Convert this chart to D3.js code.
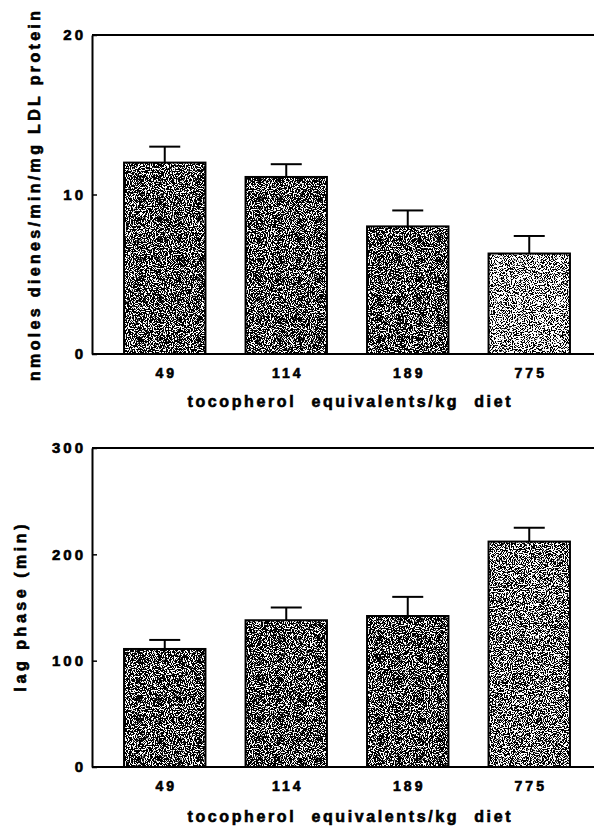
<!DOCTYPE html>
<html>
<head>
<meta charset="utf-8">
<script src="https://cdn.jsdelivr.net/npm/d3@7"></script>
<style>
  html, body { margin: 0; padding: 0; background: #fff; }
  svg { display: block; }
  text { font-family: "Liberation Sans", Arial, Helvetica, sans-serif; font-weight: bold; fill: #000;
         stroke: #000; stroke-width: 0.6px; }
</style>
</head>
<body>
<script>
// Diet groups: tocopherol equivalents per kg diet
const categories = ["49", "114", "189", "775"];

// Upper panel: rate of conjugated diene formation (nmoles/min/mg LDL protein), mean and SEM
const dieneRate = [12.0, 11.1, 8.0, 6.3];
const dieneSem = [1.0, 0.8, 1.0, 1.1];
const dieneTicks = [0, 10, 20];

// Lower panel: lag phase before oxidation (min), mean and SEM
const lagPhase = [111, 138, 142, 212];
const lagSem = [8.5, 12, 18, 13];
const lagTicks = [0, 100, 200, 300];

const xTitle = "tocopherol equivalents/kg diet";

const W = 594, H = 827;
const svg = d3.select("body").append("svg").attr("width", W).attr("height", H);
svg.append("rect").attr("width", W).attr("height", H).attr("fill", "#fff");

// Stippled fills: thresholded noise gives the grainy half-tone look of the bars
const defs = svg.append("defs");
function grain(id, offset, seed) {
  const f = defs.append("filter").attr("id", id)
    .attr("x", 0).attr("y", 0).attr("width", 1).attr("height", 1)
    .attr("filterUnits", "objectBoundingBox")
    .attr("color-interpolation-filters", "sRGB");
  f.append("feTurbulence").attr("type", "fractalNoise").attr("baseFrequency", 0.95)
    .attr("numOctaves", 2).attr("seed", seed).attr("result", "noise");
  f.append("feColorMatrix").attr("in", "noise").attr("type", "matrix")
    .attr("values", `0 0 0 0 0  0 0 0 0 0  0 0 0 0 0  -22 0 0 0 ${offset}`)
    .attr("result", "dots");
  f.append("feFlood").attr("flood-color", "#fff").attr("result", "paper");
  const m = f.append("feMerge");
  m.append("feMergeNode").attr("in", "paper");
  m.append("feMergeNode").attr("in", "dots");
}
grain("grain-dark", 12.4, 3);
grain("grain-mid", 11.7, 5);
grain("grain-light", 10.9, 9);

const x = d3.scaleBand().domain(categories).range([104, 590])
  .paddingInner(0.33).paddingOuter(0.165);

const xAxisLeft = 92;

function panel(cfg) {
  const y = d3.scaleLinear().domain([0, cfg.max]).range([cfg.bottom, cfg.top]);
  const g = svg.append("g");

  // bars: grain fill plus black outline
  const bars = g.selectAll("g.bar").data(categories).join("g").attr("class", "bar");
  bars.append("rect")
    .attr("x", d => x(d))
    .attr("y", (d, i) => y(cfg.values[i]))
    .attr("width", x.bandwidth())
    .attr("height", (d, i) => y(0) - y(cfg.values[i]))
    .attr("fill", "#888")
    .attr("filter", (d, i) => `url(#${cfg.fills[i]})`);
  bars.append("rect")
    .attr("x", d => x(d))
    .attr("y", (d, i) => y(cfg.values[i]))
    .attr("width", x.bandwidth())
    .attr("height", (d, i) => y(0) - y(cfg.values[i]))
    .attr("fill", "none").attr("stroke", "#000").attr("stroke-width", 2);

  // upward error bars
  const capHalf = 15.5;
  bars.append("line")
    .attr("x1", d => x(d) + x.bandwidth() / 2).attr("x2", d => x(d) + x.bandwidth() / 2)
    .attr("y1", (d, i) => y(cfg.values[i]))
    .attr("y2", (d, i) => y(cfg.values[i] + cfg.errors[i]))
    .attr("stroke", "#000").attr("stroke-width", 2);
  bars.append("line")
    .attr("x1", d => x(d) + x.bandwidth() / 2 - capHalf)
    .attr("x2", d => x(d) + x.bandwidth() / 2 + capHalf)
    .attr("y1", (d, i) => y(cfg.values[i] + cfg.errors[i]))
    .attr("y2", (d, i) => y(cfg.values[i] + cfg.errors[i]))
    .attr("stroke", "#000").attr("stroke-width", 2);

  // frame: top rule and baseline run to the right edge
  g.append("line").attr("x1", xAxisLeft).attr("x2", W)
    .attr("y1", y(cfg.max)).attr("y2", y(cfg.max))
    .attr("stroke", "#000").attr("stroke-width", 2);
  g.append("line").attr("x1", xAxisLeft).attr("x2", W)
    .attr("y1", y(0)).attr("y2", y(0))
    .attr("stroke", "#000").attr("stroke-width", 2);

  // left axis with inward ticks
  const ya = g.append("g").attr("transform", `translate(${xAxisLeft},0)`)
    .call(d3.axisLeft(y).tickValues(cfg.ticks).tickSizeInner(-5).tickSizeOuter(0).tickPadding(6));
  ya.select(".domain").attr("stroke", "#000").attr("stroke-width", 2);
  ya.selectAll(".tick line").attr("stroke", "#000").attr("stroke-width", 1.5);
  ya.selectAll(".tick text").attr("font-size", 15).attr("letter-spacing", "3px")
    .attr("font-family", null).attr("fill", "#000");

  // category labels
  const xa = g.append("g").attr("transform", `translate(0,${y(0)})`)
    .call(d3.axisBottom(x).tickSize(0).tickPadding(14));
  xa.select(".domain").remove();
  xa.selectAll(".tick text").attr("font-size", 14).attr("letter-spacing", "3px")
    .attr("dx", "1.5px").attr("font-family", null).attr("fill", "#000");

  // axis titles
  g.append("text").attr("x", 349).attr("y", y(0) + cfg.xTitleOffset)
    .attr("text-anchor", "middle").attr("font-size", 16)
    .attr("textLength", 323).attr("lengthAdjust", "spacing")
    .attr("word-spacing", "8px")
    .text(xTitle);
  g.append("text")
    .attr("transform", `translate(${cfg.yTitleX},${cfg.yTitleMid}) rotate(-90)`)
    .attr("text-anchor", "middle").attr("font-size", 16)
    .attr("textLength", cfg.yTitleLen).attr("lengthAdjust", "spacing")
    .text(cfg.yTitle);
}

panel({
  values: dieneRate, errors: dieneSem, ticks: dieneTicks, max: 20,
  top: 35, bottom: 354,
  fills: ["grain-dark", "grain-dark", "grain-dark", "grain-light"],
  yTitle: "nmoles dienes/min/mg LDL protein",
  yTitleX: 40, yTitleMid: 196, yTitleLen: 370, xTitleOffset: 53
});

panel({
  values: lagPhase, errors: lagSem, ticks: lagTicks, max: 300,
  top: 448, bottom: 767,
  fills: ["grain-dark", "grain-dark", "grain-dark", "grain-mid"],
  yTitle: "lag phase (min)",
  yTitleX: 26, yTitleMid: 608, yTitleLen: 167, xTitleOffset: 55
});
</script>
</body>
</html>
